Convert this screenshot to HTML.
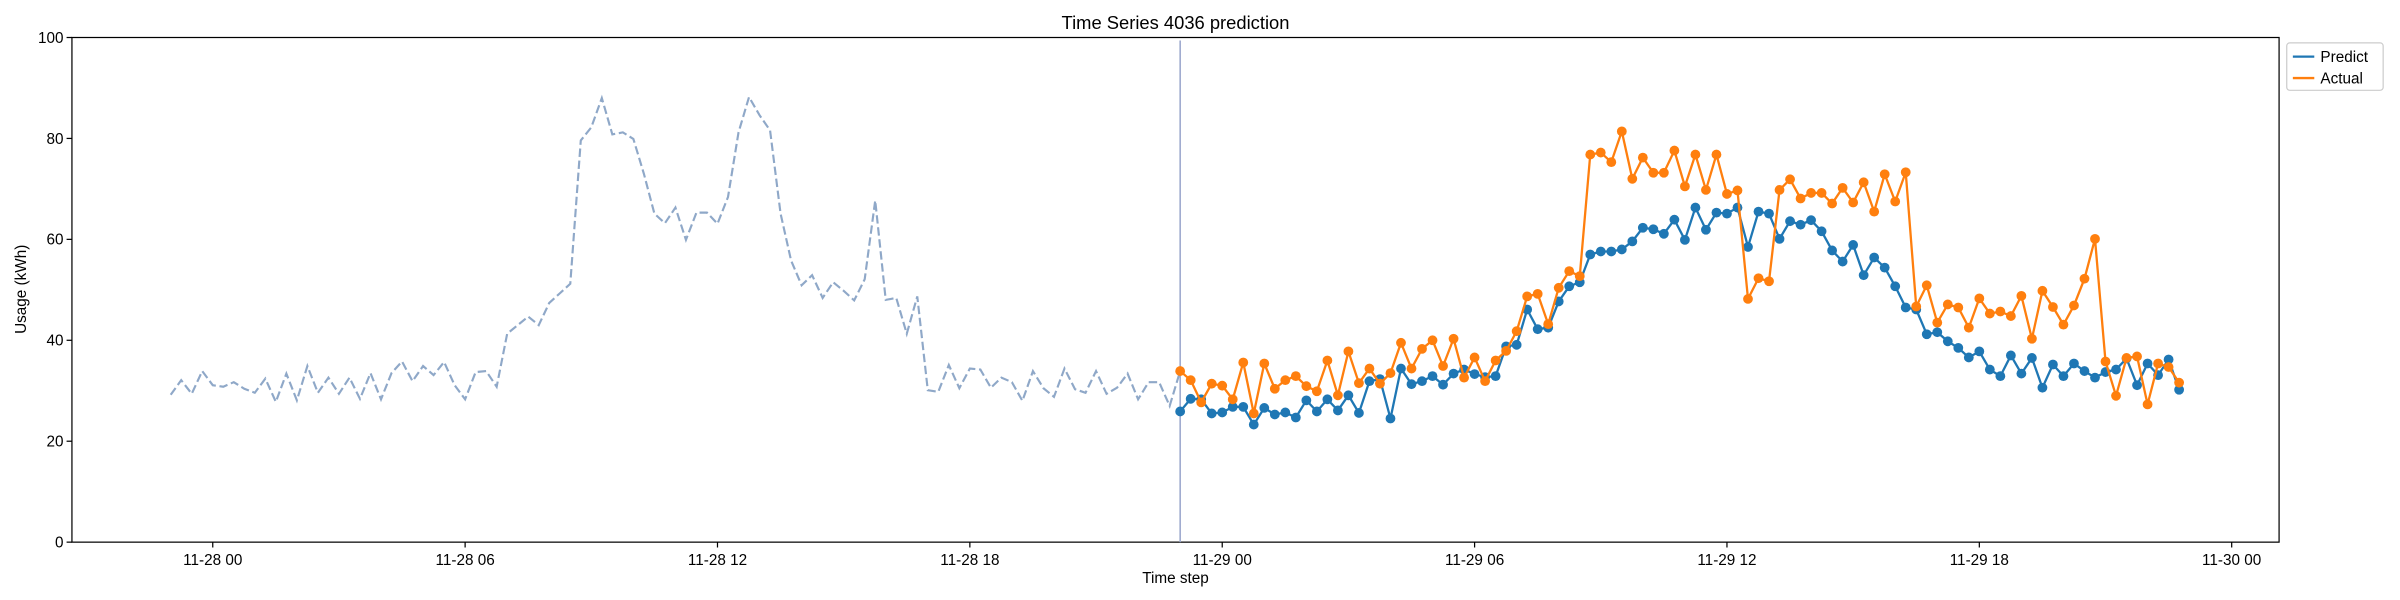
<!DOCTYPE html>
<html><head><meta charset="utf-8"><style>
html,body{margin:0;padding:0;background:#fff;}
svg{display:block;font-family:"Liberation Sans","DejaVu Sans",sans-serif;}
</style></head><body>
<svg id="chart" width="2400" height="600" viewBox="0 0 1568 392" xmlns="http://www.w3.org/2000/svg">
<rect width="1568" height="392" fill="#fff"/>
<text x="768" y="19" font-size="12" text-anchor="middle" fill="#000">Time Series 4036 prediction</text>
<text x="768" y="381" font-size="10" text-anchor="middle" fill="#000">Time step</text>
<text x="0" y="0" font-size="10" text-anchor="middle" fill="#000" transform="translate(17,189) rotate(-90)">Usage (kWh)</text>
<g id="plot"></g>
<g>
<rect x="1494" y="28" width="63" height="31" fill="#fff" stroke="#ccc" stroke-width="0.8" rx="2"/>
<line x1="1498" y1="37" x2="1512" y2="37" stroke="#1f77b4" stroke-width="1.5"/>
<text x="1516" y="40.5" font-size="10">Predict</text>
<line x1="1498" y1="51" x2="1512" y2="51" stroke="#ff7f0e" stroke-width="1.5"/>
<text x="1516" y="54.5" font-size="10">Actual</text>
</g>
</svg>
<script>
const historyValues=[29.2,32.1,29.4,33.9,31.1,30.8,31.7,30.4,29.6,32.4,27.8,33.4,28.1,34.9,29.6,32.6,29.4,32.6,28.4,33.5,28.3,33.5,35.8,31.9,34.9,33.1,35.7,31.1,28.3,33.7,33.9,30.8,41.3,43.0,44.7,43.0,47.4,49.3,51.2,79.6,82.2,88.0,80.8,81.2,79.9,73.0,65.1,63.2,66.3,59.9,65.3,65.3,63.1,68.4,81.2,88.2,84.6,81.6,65.1,55.8,50.9,52.9,48.4,51.5,49.8,47.9,52.1,67.7,48.0,48.4,41.3,48.7,30.1,29.8,35.1,30.5,34.4,34.2,30.6,32.6,31.7,28.0,33.9,30.5,28.8,34.4,30.3,29.6,33.9,29.4,30.6,33.4,28.3,31.7,31.7,27.0,33.9];
const predictValues=[25.9,28.4,28.3,25.5,25.7,26.8,26.8,23.3,26.6,25.3,25.7,24.7,28.1,25.9,28.3,26.1,29.1,25.6,31.9,32.3,24.5,34.4,31.3,31.9,
32.9,31.2,33.4,34.2,33.3,32.7,32.9,38.8,39.1,46.1,42.2,42.5,47.7,50.7,51.5,57.0,57.6,57.6,58.0,59.6,62.3,62.0,61.1,63.9,
59.9,66.3,61.9,65.3,65.1,66.3,58.5,65.5,65.1,60.1,63.6,62.9,63.8,61.6,57.8,55.6,58.9,52.9,56.4,54.4,50.7,46.5,46.1,41.2,
41.6,39.8,38.5,36.6,37.8,34.2,32.9,37.0,33.4,36.5,30.6,35.2,32.9,35.4,33.9,32.6,33.7,34.2,36.4,31.1,35.4,33.1,36.2,30.2];
const actualValues=[33.9,32.1,27.7,31.4,31.0,28.3,35.6,25.5,35.4,30.4,32.1,32.9,30.9,29.9,36.0,29.1,37.8,31.5,34.4,31.4,33.5,39.5,34.4,38.3,
40.0,34.9,40.3,32.6,36.6,31.9,36.0,37.9,41.8,48.7,49.2,43.2,50.4,53.7,52.7,76.8,77.2,75.3,81.4,72.0,76.2,73.2,73.2,77.6,
70.5,76.8,69.8,76.8,69.0,69.7,48.2,52.3,51.7,69.8,71.9,68.1,69.2,69.2,67.1,70.2,67.3,71.3,65.5,72.9,67.5,73.3,46.7,50.9,
43.5,47.1,46.5,42.5,48.3,45.3,45.7,44.8,48.8,40.3,49.8,46.6,43.1,46.9,52.2,60.1,35.8,29.0,36.5,36.8,27.3,35.4,34.7,31.6];
const xTickLabels=["11-28 00","11-28 06","11-28 12","11-28 18","11-29 00","11-29 06","11-29 12","11-29 18","11-30 00"];
const yTickLabels=["0","20","40","60","80","100"];

const NS="http://www.w3.org/2000/svg";
const L=47,R=1489,T=24.5,B=354.2;
const X0=139,PXH=27.48; // hours relative to 11-28 00
const xH=h=>X0+h*PXH;
const y=v=>B-(v/100)*(B-T);
const plot=document.getElementById('plot');
function mk(tag,attrs,parent){const e=document.createElementNS(NS,tag);for(const k in attrs)e.setAttribute(k,attrs[k]);(parent||plot).appendChild(e);return e;}

// axes frame
const frame=mk('rect',{x:L,y:T,width:R-L,height:B-T,fill:'none',stroke:'#000','stroke-width':0.8});



// y ticks
yTickLabels.forEach((lab,i)=>{const v=+lab,yy=y(v);
 mk('line',{x1:L-3.5,x2:L,y1:yy,y2:yy,stroke:'#000','stroke-width':0.8});
 const t=mk('text',{x:L-5.5,y:yy+3.5,'font-size':10,'text-anchor':'end'});t.textContent=lab;
 
 
});
// x ticks
xTickLabels.forEach((lab,i)=>{const xx=xH(i*6);
 mk('line',{x1:xx,x2:xx,y1:B,y2:B+3.5,stroke:'#000','stroke-width':0.8});
 const t=mk('text',{x:xx,y:B+15,'font-size':10,'text-anchor':'middle'});t.textContent=lab;
 
 
});

// history dashed line (15-min steps starting 11-27 23:00)
const hp=historyValues.map((v,i)=>xH(-1+i*0.25).toFixed(2)+','+y(v).toFixed(2)).join(' ');
const hl=mk('polyline',{points:hp,fill:'none',stroke:'#8fa8c8','stroke-width':1.4,'stroke-dasharray':'5.5,2.4'});



// forecast start line
const fx=xH(23);
const vl=mk('line',{x1:fx,x2:fx,y1:T+2,y2:B,stroke:'#9aa6cc','stroke-width':1});



function series(vals,color,name){
 const g=mk('g',{});
 
 
 const pts=vals.map((v,i)=>xH(23+i*0.25).toFixed(2)+','+y(v).toFixed(2)).join(' ');
 const pl=mk('polyline',{points:pts,fill:'none',stroke:color,'stroke-width':1.5},g);
 
 
 vals.forEach((v,i)=>{const c=mk('circle',{cx:xH(23+i*0.25),cy:y(v),r:3.2,fill:color},g);
  
  });
}
series(predictValues,'#1f77b4','predict');
series(actualValues,'#ff7f0e','actual');
</script>
</body></html>
